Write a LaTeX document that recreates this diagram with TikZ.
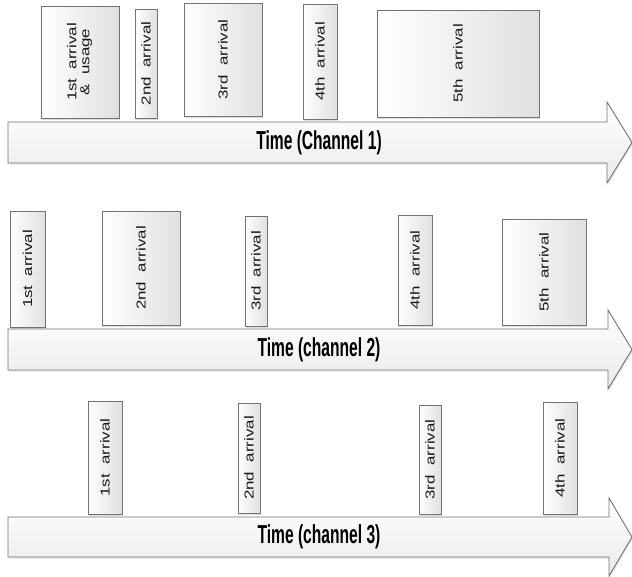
\documentclass[tikz,border=0pt]{standalone}
\usepackage{fontspec}
\setmainfont{Liberation Sans}
\newfontfamily\slotfont[FakeStretch=1.3,WordSpace=2]{Liberation Sans}
\newfontfamily\axisfont[FakeStretch=0.6]{Liberation Sans}
\usetikzlibrary{shadows}

\tikzset{
  slot/.style={draw=black!55, line width=0.9pt, left color=white, right color=black!12,
    drop shadow={shadow xshift=1.2pt, shadow yshift=-1.5pt, opacity=0.25},
    inner sep=0pt, text=black!90, font=\slotfont\fontsize{13}{13}\selectfont},
  timeaxis/.style={draw=black!55, line width=0.9pt, top color=white, bottom color=black!8,
    drop shadow={shadow xshift=1pt, shadow yshift=-1.5pt, opacity=0.2}},
  axislabel/.style={font=\axisfont\bfseries\fontsize{26}{28}\selectfont}
}

\begin{document}
\begin{tikzpicture}[x=1pt,y=-1pt]
  \useasboundingbox (0,0) rectangle (632,576);

  % channel 1
  \draw[timeaxis] (8,122) -- (607,122) -- (607,102) -- (632,142.5) -- (607,183) -- (607,163) -- (8,163) -- cycle;
  \node[axislabel] (t1) at (319,142.5) {Time (Channel 1)};

  \node[slot, minimum width=78, minimum height=112] (a1) at (80,62)
    {\rotatebox{90}{\begin{tabular}{@{}c@{}}1st arrival\\\& usage\end{tabular}}};
  \node[slot, minimum width=22, minimum height=109] (a2) at (146,63.5) {\rotatebox{90}{2nd arrival}};
  \node[slot, minimum width=78, minimum height=113] (a3) at (223,59.5) {\rotatebox{90}{3rd arrival}};
  \node[slot, minimum width=34, minimum height=115] (a4) at (320,61.5) {\rotatebox{90}{4th arrival}};
  \node[slot, minimum width=162, minimum height=107] (a5) at (458,63.5) {\rotatebox{90}{5th arrival}};

  % channel 2
  \draw[timeaxis] (8,329) -- (608,329) -- (608,310) -- (632,349.5) -- (608,389) -- (608,370) -- (8,370) -- cycle;
  \node[axislabel] (t2) at (319,349.5) {Time (channel 2)};

  \node[slot, minimum width=35, minimum height=116] (b1) at (27.5,269) {\rotatebox{90}{1st arrival}};
  \node[slot, minimum width=78, minimum height=114] (b2) at (141,268) {\rotatebox{90}{2nd arrival}};
  \node[slot, minimum width=22, minimum height=110] (b3) at (256,271) {\rotatebox{90}{3rd arrival}};
  \node[slot, minimum width=34, minimum height=110] (b4) at (415,270) {\rotatebox{90}{4th arrival}};
  \node[slot, minimum width=84, minimum height=106] (b5) at (544,272) {\rotatebox{90}{5th arrival}};

  % channel 3
  \draw[timeaxis] (8,517) -- (609,517) -- (609,498) -- (632,537) -- (609,576) -- (609,557) -- (8,557) -- cycle;
  \node[axislabel] (t3) at (319,537) {Time (channel 3)};

  \node[slot, minimum width=34, minimum height=113] (c1) at (105,457.5) {\rotatebox{90}{1st arrival}};
  \node[slot, minimum width=22, minimum height=110] (c2) at (249,458) {\rotatebox{90}{2nd arrival}};
  \node[slot, minimum width=22, minimum height=109] (c3) at (430,459.5) {\rotatebox{90}{3rd arrival}};
  \node[slot, minimum width=34, minimum height=112] (c4) at (560,458) {\rotatebox{90}{4th arrival}};
\end{tikzpicture}
\end{document}
